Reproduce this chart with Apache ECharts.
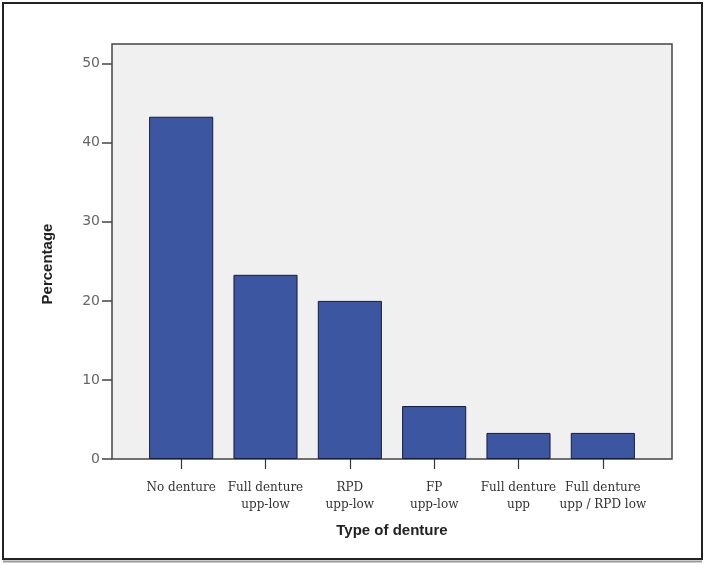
<!DOCTYPE html>
<html>
<head>
<meta charset="utf-8">
<script src="https://cdn.jsdelivr.net/npm/echarts@6/dist/echarts.min.js"></script>
<style>html,body{margin:0;padding:0;background:#fff;}#c{width:707px;height:565px;}</style>
</head>
<body>
<div id="c"></div>
<script>
const categories = ['No denture', 'Full denture\nupp-low', 'RPD\nupp-low', 'FP\nupp-low', 'Full denture\nupp', 'Full denture\nupp / RPD low'];
const percentages = [43.3, 23.3, 20.0, 6.7, 3.3, 3.3];
const yTicks = [0, 10, 20, 30, 40, 50];
const yTitle = 'Percentage';
const xTitle = 'Type of denture';

const chart = echarts.init(document.getElementById('c'), null, {renderer: 'canvas'});
const option = {
  backgroundColor: '#ffffff',
  animation: false,
  grid: [
    {left: 112, top: 44, width: 560, height: 415, show: true, backgroundColor: '#f0f0f0', borderColor: '#444', borderWidth: 1.5, containLabel: false},
    {left: 139, top: 44, width: 506, height: 415, containLabel: false}
  ],
  xAxis: [
    {type: 'value', gridIndex: 0, min: 0, max: 1, show: false},
    {
      type: 'category', gridIndex: 1, data: categories,
      axisLine: {show: false},
      axisTick: {show: true, alignWithLabel: true, length: 10, lineStyle: {color: '#333', width: 1.2}},
      axisLabel: {margin: 20, fontFamily: 'DejaVu Serif', fontSize: 12, color: '#333', lineHeight: 17, interval: 0},
      name: xTitle, nameLocation: 'middle', nameGap: 64,
      nameTextStyle: {fontFamily: 'Liberation Sans', fontWeight: 'bold', fontSize: 15, color: '#222'}
    }
  ],
  yAxis: [
    {
      type: 'value', gridIndex: 0, min: 0, max: 52.5,
      splitLine: {show: false},
      axisLine: {show: false},
      axisTick: {show: true, length: 10, customValues: yTicks, lineStyle: {color: '#444', width: 1.5}},
      axisLabel: {customValues: yTicks, margin: 12, fontFamily: 'DejaVu Sans', fontSize: 14, color: '#666'}
    },
    {type: 'value', gridIndex: 1, min: 0, max: 52.5, show: false, splitLine: {show: false}}
  ],
  series: [{
    type: 'bar', xAxisIndex: 1, yAxisIndex: 1, data: percentages, barWidth: '76%',
    itemStyle: {color: '#3c56a2', borderColor: '#151c38', borderWidth: 1}
  }],
  graphic: [
    {type: 'text', x: 48, y: 264, rotation: Math.PI / 2,
      style: {text: yTitle, fontFamily: 'Liberation Sans', fontWeight: 'bold', fontSize: 15, fill: '#222', textAlign: 'center', textVerticalAlign: 'middle'}},
    {type: 'rect', shape: {x: 3, y: 3, width: 699, height: 556}, style: {fill: 'none', stroke: '#222', lineWidth: 2}, z: 100},
    {type: 'line', shape: {x1: 3, y1: 561.5, x2: 702, y2: 561.5}, style: {stroke: '#999', lineWidth: 2}, z: 100}
  ]
};
chart.setOption(option);
</script>
</body>
</html>
